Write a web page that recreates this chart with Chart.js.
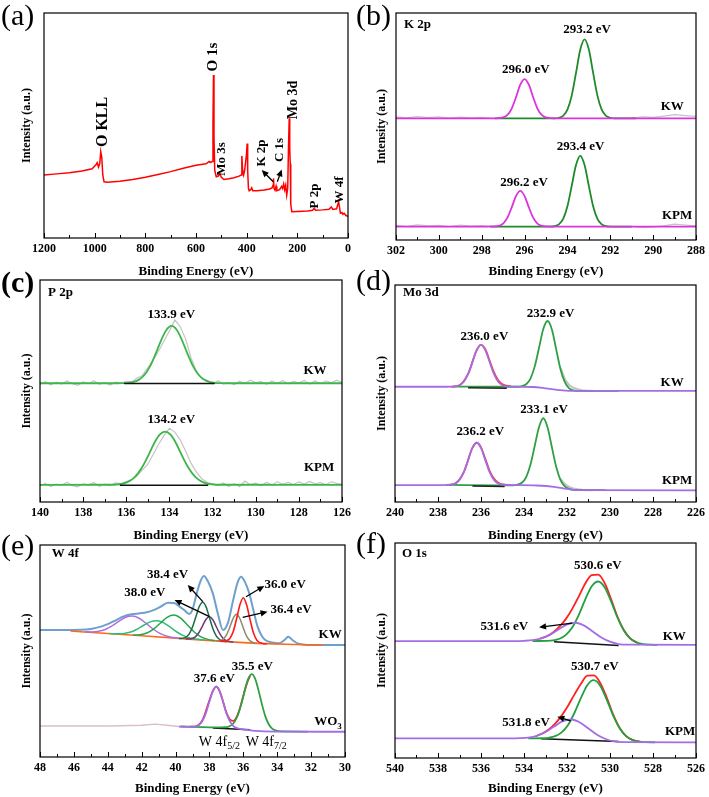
<!DOCTYPE html>
<html>
<head>
<meta charset="utf-8">
<script src="https://cdn.jsdelivr.net/npm/chart.js@4.4.1/dist/chart.umd.min.js"></script>
<style>
  html, body { margin: 0; padding: 0; background: #fff; }
  #fig { position: relative; width: 709px; height: 797px; overflow: hidden; }
  #fig canvas { position: absolute; }
</style>
</head>
<body>
<div id="fig"></div>
<script>
const SERIF = "'Liberation Serif', 'Times New Roman', serif";

// (a) survey spectrum
const surveyE = [1200, 1150, 1100, 1050, 1010, 995, 990, 985, 980, 976, 972, 968, 963, 950, 900, 850, 800, 750, 700, 650, 600, 560, 548, 542, 536, 533, 531, 529, 526, 520, 512, 506, 500, 490, 470, 450, 430, 422, 419, 416, 412, 408, 401, 398, 396, 393, 390, 384, 380, 376, 360, 330, 310, 300, 296, 294, 292, 288, 284, 281, 270, 262, 258, 254, 250, 246, 242, 238, 235, 232, 230, 228, 226, 222, 200, 160, 140, 133, 128, 100, 75, 66, 60, 45, 40, 37, 34, 30, 24, 20, 15, 8, 3, 0];
const surveyI = [28, 28.5, 29, 29.8, 30.8, 32.5, 33.5, 31.5, 33, 38.4, 36, 28, 25, 24.8, 25.2, 26, 27, 28.2, 29.5, 31, 32.3, 33, 34, 33.5, 34, 50, 72.4, 45, 30, 27.2, 27.5, 28.6, 27, 26, 26.3, 26.8, 27.5, 28, 36.5, 30, 28, 30, 37, 42, 30, 22, 21, 21.5, 22.3, 21, 21, 21.3, 21.8, 22.3, 23.5, 26.5, 22, 21.2, 23, 21, 21.5, 23, 22, 24, 21.5, 23.5, 19, 22, 40, 53.2, 40, 33, 15, 11.7, 11.8, 12, 12.3, 13.2, 12.3, 12.5, 12.8, 13.8, 12.7, 13, 15, 16.1, 14, 11, 11.3, 10.5, 11, 10, 9.8, 9.5];

// (b) K 2p
const kRawE = [302, 301.5, 301, 300.5, 300, 299.5, 299, 298.5, 298, 297.5, 294, 291, 290.5, 290, 289.5, 289, 288.5, 288];
const kKwRawI = [54.2, 53.8, 54.4, 53.9, 54.3, 53.7, 54.1, 53.8, 54.0, 53.6, null, 53.7, 54.3, 54.0, 54.6, 55.2, 54.8, 54.5];
const kKpmRawI = [6.4, 6.0, 6.7, 6.2, 6.5, 5.9, 6.6, 6.1, 6.3, 5.9, null, 6.0, 5.4, 5.8, 6.2, 7.0, 6.6, 6.2];
const kKw296E = [302, 297.6, 297.2, 297.0, 296.8, 296.6, 296.4, 296.2, 296.0, 295.8, 295.6, 295.4, 295.2, 295.0, 294.8, 294.4, 288];
const kKw296I = [53.6, 53.6, 53.7, 54.0, 55.1, 57.9, 62.9, 68.4, 70.9, 68.4, 62.9, 57.9, 55.1, 54.0, 53.7, 53.6, 53.6];
const kKw293E = [297.4, 294.8, 294.6, 294.4, 294.2, 294.0, 293.8, 293.6, 293.4, 293.2, 293.0, 292.8, 292.6, 292.4, 292.2, 292.0, 291.8, 290.8];
const kKw293I = [53.6, 53.6, 53.6, 53.85, 54.7, 57.4, 63.6, 73.6, 83.9, 88.4, 83.9, 73.6, 63.6, 57.4, 54.7, 53.85, 53.6, 53.6];
const kKpm296E = [302, 297.8, 297.4, 297.2, 297.0, 296.8, 296.6, 296.4, 296.2, 296.0, 295.8, 295.6, 295.4, 295.2, 295.0, 294.6, 288];
const kKpm296I = [5.9, 5.9, 5.96, 6.23, 7.23, 9.83, 14.38, 19.35, 21.6, 19.35, 14.38, 9.83, 7.23, 6.23, 5.96, 5.9, 5.9];
const kKpm293E = [297.6, 295.0, 294.8, 294.6, 294.4, 294.2, 294.0, 293.8, 293.6, 293.4, 293.2, 293.0, 292.8, 292.6, 292.4, 292.2, 292.0, 291.0];
const kKpm293I = [5.9, 5.9, 5.9, 6.12, 6.87, 9.3, 14.9, 23.8, 33.0, 37.1, 33.0, 23.8, 14.9, 9.3, 6.87, 6.12, 5.9, 5.9];

// (c) P 2p
const pRawE = [140, 139.75, 139.5, 139.25, 139, 138.75, 138.5, 138.25, 138, 137.75, 137.5, 137.25, 137, 136.75, 136.5, 136.25, 136, 135.75, 135.5, 135.25, 135, 134.75, 134.5, 134.25, 134, 133.75, 133.5, 133.25, 133, 132.75, 132.5, 132.25, 132, 131.75, 131.5, 131.25, 131, 130.75, 130.5, 130.25, 130, 129.75, 129.5, 129.25, 129, 128.75, 128.5, 128.25, 128, 127.75, 127.5, 127.25, 127, 126.75, 126.5, 126.25, 126];
const pKwRawI = [53.0, 54.2, 52.8, 54.0, 53.1, 54.5, 53.3, 52.6, 54.1, 53.4, 54.6, 53.0, 53.9, 52.7, 54.0, 53.6, 54.3, 54.2, 55.8, 57.0, 60.5, 64.0, 68.0, 72.5, 77.0, 82.0, 79.0, 73.5, 65.0, 59.0, 55.5, 54.8, 53.2, 54.6, 53.1, 53.9, 52.9, 54.4, 53.5, 54.9, 53.8, 54.2, 53.0, 54.5, 53.4, 54.7, 53.2, 54.3, 53.6, 54.8, 53.1, 54.5, 53.3, 54.6, 53.7, 54.9, 53.8];
const pKpmRawI = [7.2, 8.4, 7.0, 8.1, 7.5, 8.9, 7.3, 6.8, 8.2, 7.6, 8.8, 7.1, 8.0, 7.4, 8.6, 8.3, 9.2, 10.0, 11.8, 14.5, 17.0, 21.5, 26.0, 30.0, 33.2, 31.5, 28.0, 23.0, 17.5, 13.5, 10.5, 8.9, 8.2, 7.4, 8.6, 7.0, 8.3, 6.9, 9.4, 7.8, 8.5, 7.3, 8.9, 7.6, 9.2, 8.0, 8.8, 7.9, 9.0, 8.1, 9.3, 8.2, 8.7, 7.8, 9.1, 8.4, 8.0];
const pKwFitE = [140, 136.4, 136.15, 135.9, 135.65, 135.4, 135.15, 134.9, 134.65, 134.4, 134.15, 133.9, 133.65, 133.4, 133.15, 132.9, 132.65, 132.4, 132.15, 131.9, 131.65, 131.4, 126];
const pKwFitI = [53.5, 53.5, 53.55, 53.7, 54.1, 55.2, 57.3, 61.1, 66.5, 72.5, 77.4, 79.3, 77.4, 72.5, 66.5, 61.1, 57.3, 55.2, 54.1, 53.7, 53.55, 53.5, 53.5];
const pKpmFitE = [140, 136.7, 136.45, 136.2, 135.95, 135.7, 135.45, 135.2, 134.95, 134.7, 134.45, 134.2, 133.95, 133.7, 133.45, 133.2, 132.95, 132.7, 132.45, 132.2, 131.95, 131.7, 126];
const pKpmFitI = [7.7, 7.76, 7.88, 8.2, 8.95, 10.4, 13.0, 16.8, 21.6, 26.6, 30.3, 31.7, 30.3, 26.6, 21.6, 16.8, 13.0, 10.4, 8.95, 8.2, 7.88, 7.76, 7.7];
const pKwBgE = [136.1, 131.9], pKwBgI = [53.4, 53.4];
const pKpmBgE = [136.3, 132.2], pKpmBgI = [7.55, 7.6];

// (d) Mo 3d
const mKw236E = [240, 237.6, 237.2, 237.0, 236.8, 236.6, 236.4, 236.2, 236.0, 235.8, 235.6, 235.4, 235.2, 235.0, 234.8, 234.4, 233.6, 233.0, 232.4, 231.9, 226];
const mKw236I = [53.1, 53.1, 53.27, 53.81, 55.45, 59.0, 64.5, 70.0, 72.4, 70.0, 64.5, 59.0, 55.45, 53.81, 53.27, 53.1, 53.0, 52.4, 51.6, 51.2, 51.2];
const mKw233E = [237.3, 235.2, 234.3, 234.1, 233.9, 233.7, 233.5, 233.3, 233.1, 232.9, 232.7, 232.5, 232.3, 232.1, 231.9, 231.7, 231.5, 229.6];
const mKw233I = [53.2, 53.1, 53.1, 53.38, 54.25, 56.9, 62.5, 71.1, 79.8, 83.4, 79.4, 70.2, 61.1, 55.2, 52.35, 51.48, 51.2, 51.2];
const mKwEnvE = [237.4, 237.0, 236.6, 236.2, 236.0, 235.8, 235.6, 235.4, 235.2, 235.0, 234.6];
const mKwEnvI = [53.1, 53.81, 59.0, 70.0, 72.4, 70.4, 65.2, 59.8, 56.1, 54.3, 53.2];
const mRawE = [232.3, 232.1, 231.9, 231.7, 231.5, 231.3, 231.1, 230.8];
const mKwRawI = [61.8, 56.5, 53.8, 52.6, 51.9, 51.5, 51.3, 51.2];
const mKpmRawI = [10.6, 8.2, 6.9, 6.2, 5.8, 5.6, 5.5, 5.5];
const mKwBgE = [236.6, 234.8], mKwBgI = [52.7, 52.4];
const mKpm236E = [240, 237.8, 237.4, 237.2, 237.0, 236.8, 236.6, 236.4, 236.2, 236.0, 235.8, 235.6, 235.4, 235.2, 235.0, 234.6, 233.4, 232.6, 232.0, 231.5, 226];
const mKpm236I = [7.8, 7.8, 7.98, 8.52, 10.18, 13.77, 19.3, 24.9, 27.3, 24.9, 19.3, 13.77, 10.18, 8.52, 7.98, 7.8, 7.6, 7.0, 6.0, 5.5, 5.4];
const mKpm233E = [237.5, 235.2, 234.5, 234.3, 234.1, 233.9, 233.7, 233.5, 233.3, 233.1, 232.9, 232.7, 232.5, 232.3, 232.1, 231.9, 231.7, 230.2];
const mKpm233I = [7.9, 7.7, 7.7, 7.98, 8.85, 11.5, 17.2, 25.9, 34.6, 38.6, 34.2, 25.1, 16.1, 10.1, 7.15, 6.08, 5.6, 5.5];
const mKpmEnvE = [237.6, 237.2, 236.8, 236.4, 236.2, 236.0, 235.8, 235.6, 235.4, 235.2, 235.0, 234.6];
const mKpmEnvI = [7.8, 8.52, 13.77, 24.9, 27.3, 25.2, 19.9, 14.4, 10.8, 8.9, 8.1, 7.8];
const mKpmBgE = [236.4, 234.9], mKpmBgI = [7.4, 7.2];

// (e) W 4f, KW
const wKwEnvE = [48, 46.5, 45.6, 45.0, 44.4, 43.9, 43.5, 43.1, 42.6, 42.1, 41.7, 41.3, 40.9, 40.45, 40.1, 39.8, 39.5, 39.2, 39.0, 38.8, 38.55, 38.33, 38.1, 37.8, 37.5, 37.2, 36.9, 36.6, 36.35, 36.14, 35.9, 35.65, 35.4, 35.16, 34.9, 34.7, 34.3, 33.9, 33.6, 33.35, 33.1, 32.8, 32.4, 32.1, 30];
const wKwEnvI = [59.9, 59.9, 60.0, 60.4, 61.5, 63.0, 64.6, 66.2, 67.3, 67.8, 68.3, 69.3, 70.8, 72.8, 72.6, 71.2, 69.4, 67.5, 69.5, 75.6, 82.5, 85.4, 83.0, 77.2, 67.5, 59.9, 63.5, 74.0, 82.0, 85.0, 82.5, 77.2, 69.0, 61.5, 57.0, 55.2, 54.0, 53.6, 55.0, 56.7, 55.2, 53.6, 53.0, 52.8, 52.8];
const wKwBgE = [46.2, 45.6, 42.0, 39.0, 36.5, 35.2, 33.0, 31.3];
const wKwBgI = [59.4, 59.1, 57.2, 55.5, 54.2, 53.6, 53.1, 52.8];
const wKw360E = [37.4, 37.2, 37.0, 36.8, 36.6, 36.4, 36.2, 36.0, 35.8, 35.6, 35.4, 35.2, 35.0, 34.8, 34.6];
const wKw360I = [54.7, 54.65, 54.86, 55.9, 59.1, 65.1, 71.8, 75.1, 71.6, 64.7, 58.5, 55.1, 53.86, 53.45, 53.4];
const wKw364E = [37.6, 37.4, 37.2, 37.0, 36.8, 36.6, 36.4, 36.2, 36.0, 35.8, 35.6, 35.4, 35.2];
const wKw364I = [54.8, 54.92, 55.56, 57.5, 61.2, 65.4, 67.3, 65.2, 60.8, 56.9, 54.76, 53.92, 53.6];
const wKw384E = [39.8, 39.6, 39.4, 39.2, 39.0, 38.8, 38.6, 38.4, 38.2, 38.0, 37.8, 37.6, 37.4, 37.2, 37.0];
const wKw384I = [55.9, 56.0, 56.48, 58.0, 61.3, 66.2, 71.0, 73.0, 70.8, 65.75, 60.65, 57.15, 55.43, 54.7, 54.4];
const wKw380E = [39.4, 39.2, 39.0, 38.8, 38.6, 38.4, 38.2, 38.0, 37.8, 37.6, 37.4, 37.2, 37.0, 36.8, 36.6];
const wKw380I = [55.7, 55.72, 56.0, 56.92, 58.96, 62.0, 65.0, 66.2, 64.75, 61.55, 58.31, 56.02, 54.9, 54.42, 54.2];
const wKw401E = [42.5, 42.1, 41.7, 41.3, 40.9, 40.5, 40.1, 39.7, 39.3, 38.9, 38.5, 38.1, 37.7];
const wKw401I = [57.52, 57.68, 58.47, 60.29, 63.1, 65.9, 67.0, 65.5, 62.3, 58.99, 56.67, 55.48, 54.92];
const wKw411E = [43.9, 43.5, 43.1, 42.7, 42.3, 41.9, 41.5, 41.1, 40.7, 40.3, 39.9, 39.5, 39.1, 38.7, 38.3];
const wKw411I = [58.23, 58.1, 58.19, 58.81, 60.14, 62.04, 63.75, 64.3, 63.3, 61.14, 58.84, 57.11, 56.04, 55.5, 55.13];
const wKw426E = [45.35, 44.95, 44.55, 44.15, 43.75, 43.35, 42.95, 42.55, 42.15, 41.75, 41.35, 40.95, 40.55, 40.15, 39.75];
const wKw426I = [59.07, 59.01, 59.27, 60.17, 61.84, 63.97, 65.89, 66.5, 65.44, 63.12, 60.49, 58.42, 57.07, 56.36, 55.97];

// (e) W 4f, WO3
const wWoRawE = [48, 44, 42, 41.2, 40.5, 39.8];
const wWoRawI = [14.6, 14.6, 15.0, 15.5, 15.0, 14.4];
const wWo376E = [39.8, 39.2, 39.0, 38.8, 38.6, 38.4, 38.2, 38.0, 37.8, 37.6, 37.4, 37.2, 37.0, 36.8, 36.6, 36.4, 36.2, 35.6, 35.0, 34.0, 30.0];
const wWo376I = [14.3, 14.2, 14.28, 14.48, 15.23, 17.2, 20.95, 26.2, 31.1, 33.2, 31.1, 26.15, 20.8, 16.9, 14.73, 13.73, 13.28, 12.6, 12.2, 12.0, 11.9];
const wWo355E = [39.7, 37.3, 37.1, 36.9, 36.7, 36.5, 36.3, 36.1, 35.9, 35.7, 35.5, 35.3, 35.1, 34.9, 34.7, 34.5, 34.3, 34.1, 33.9, 32.2];
const wWo355I = [14.4, 14.0, 14.03, 14.25, 15.02, 16.8, 20.27, 25.6, 31.85, 37.1, 39.1, 36.85, 31.3, 24.8, 19.17, 15.45, 13.42, 12.55, 12.18, 12.0];
const wWoEnvE = [39.2, 38.8, 38.4, 38.0, 37.8, 37.6, 37.4, 37.2, 37.0, 36.8, 36.6, 36.4, 36.2, 36.0, 35.8, 35.6];
const wWoEnvI = [14.3, 14.5, 17.6, 26.8, 31.1, 33.2, 31.1, 26.2, 20.9, 17.8, 17.0, 18.8, 23.0, 28.9, 34.5, 38.2];
const wWoBgE = [37.8, 35.6], wWoBgI = [13.7, 12.8];

// (f) O 1s
const oKw531E = [540, 534.4, 534.0, 533.6, 533.2, 532.8, 532.4, 532.0, 531.6, 531.2, 530.8, 530.4, 530.0, 529.6, 529.2, 526];
const oKw531I = [54.4, 54.4, 54.5, 54.79, 55.59, 57.26, 59.74, 62.16, 62.9, 61.56, 58.84, 56.06, 54.09, 52.99, 52.7, 52.6];
const oKw530E = [533.6, 532.95, 532.65, 532.35, 532.05, 531.75, 531.45, 531.15, 530.85, 530.55, 530.25, 529.95, 529.65, 529.35, 529.05, 528.75, 528.45, 528.15, 527.8];
const oKw530I = [54.4, 54.49, 54.72, 55.47, 57.3, 60.82, 66.6, 73.76, 79.85, 82.1, 79.4, 72.81, 65.25, 59.22, 55.5, 53.67, 52.92, 52.69, 52.6];
const oKwEnvE = [533.25, 532.95, 532.65, 532.35, 532.05, 531.75, 531.45, 531.15, 530.85, 530.55, 530.25, 529.95, 529.65, 529.35, 529.05, 528.75];
const oKwEnvI = [55.5, 56.6, 58.4, 61.1, 64.7, 69.5, 75.2, 81.2, 85.1, 85.3, 81.4, 73.9, 65.7, 59.4, 55.55, 53.7];
const oKwBgE = [532.6, 529.6], oKwBgI = [54.1, 52.3];
const oKpm531E = [540, 534.6, 534.2, 533.8, 533.4, 533.0, 532.6, 532.2, 531.8, 531.4, 531.0, 530.6, 530.2, 529.8, 529.4, 526];
const oKpm531I = [9.1, 9.1, 9.2, 9.5, 10.33, 12.06, 14.62, 17.13, 17.9, 16.53, 13.72, 10.86, 8.83, 7.7, 7.4, 7.3];
const oKpm530E = [533.8, 533.15, 532.85, 532.55, 532.25, 531.95, 531.65, 531.35, 531.05, 530.75, 530.45, 530.15, 529.85, 529.55, 529.25, 528.95, 528.65, 528.35, 527.9];
const oKpm530I = [9.1, 9.18, 9.41, 10.14, 11.95, 15.39, 21.05, 27.95, 33.95, 36.2, 33.5, 27.05, 19.7, 13.79, 10.15, 8.34, 7.61, 7.38, 7.3];
const oKpmEnvE = [533.45, 533.15, 532.85, 532.55, 532.25, 531.95, 531.65, 531.35, 531.05, 530.75, 530.45, 530.15, 529.85, 529.55, 529.25, 528.95, 528.6];
const oKpmEnvI = [10.2, 11.4, 13.26, 16.0, 19.72, 24.33, 29.6, 34.5, 38.3, 38.4, 34.8, 28.13, 20.17, 13.95, 10.2, 8.4, 7.6];
const oKpmBgE = [533.2, 529.6], oKpmBgI = [8.9, 7.7];

const GRAY = '#c4c4c4';

function pts(E, I) {
    return E.map((x, i) => ({ x: x, y: I[i] }));
}

function curve(E, I, color, width) {
    return {
        data: pts(E, I), borderColor: color, borderWidth: width || 1.8,
        pointRadius: 0, fill: false, cubicInterpolationMode: 'monotone', spanGaps: false
    };
}

function raw(E, I, color, width) {
    return {
        data: pts(E, I), borderColor: color, borderWidth: width || 1.2,
        pointRadius: 0, fill: false, tension: 0, spanGaps: false
    };
}

function drawArrow(ctx, x1, y1, x2, y2) {
    const ang = Math.atan2(y2 - y1, x2 - x1);
    const hl = 7, hw = 3.2;
    ctx.beginPath();
    ctx.moveTo(x1, y1);
    ctx.lineTo(x2 - Math.cos(ang) * hl * 0.8, y2 - Math.sin(ang) * hl * 0.8);
    ctx.lineWidth = 1.3;
    ctx.stroke();
    ctx.beginPath();
    ctx.moveTo(x2, y2);
    ctx.lineTo(x2 - hl * Math.cos(ang) + hw * Math.sin(ang), y2 - hl * Math.sin(ang) - hw * Math.cos(ang));
    ctx.lineTo(x2 - hl * Math.cos(ang) - hw * Math.sin(ang), y2 - hl * Math.sin(ang) + hw * Math.cos(ang));
    ctx.closePath();
    ctx.fill();
}

function drawLabel(ctx, item, px, py) {
    const size = item.size || 13;
    const weight = item.bold === false ? '' : 'bold ';
    ctx.font = weight + size + 'px ' + SERIF;
    ctx.textBaseline = 'middle';
    if (item.rot) {
        ctx.save();
        ctx.translate(px, py);
        ctx.rotate(-Math.PI / 2);
        ctx.textAlign = 'center';
        ctx.fillText(item.t, 0, 0);
        ctx.restore();
        return;
    }
    if (item.sub) {
        const w1 = ctx.measureText(item.t).width;
        const subFont = weight + Math.round(size * 0.68) + 'px ' + SERIF;
        ctx.font = subFont;
        const w2 = ctx.measureText(item.sub).width;
        const x0 = px - (w1 + w2) / 2;
        ctx.textAlign = 'left';
        ctx.font = weight + size + 'px ' + SERIF;
        ctx.fillText(item.t, x0, py);
        ctx.font = subFont;
        ctx.fillText(item.sub, x0 + w1, py + size * 0.32);
        return;
    }
    ctx.textAlign = item.align || 'center';
    ctx.fillText(item.t, px, py);
}

function decoPlugin(p) {
    return {
        id: 'deco',
        afterDraw(chart) {
            const { ctx, chartArea: a, scales: { x, y } } = chart;
            ctx.save();
            ctx.strokeStyle = '#000';
            ctx.fillStyle = '#000';
            ctx.lineWidth = 1.2;
            ctx.strokeRect(a.left, a.top, a.right - a.left, a.bottom - a.top);
            x.ticks.forEach((t) => {
                const px = Math.round(x.getPixelForValue(t.value)) + 0.5;
                const len = t.value % p.labelStep === 0 ? 5 : 3;
                ctx.beginPath();
                ctx.moveTo(px, a.bottom);
                ctx.lineTo(px, a.bottom - len);
                ctx.lineWidth = 1;
                ctx.stroke();
            });
            (p.arrows || []).forEach((ar) => {
                drawArrow(ctx, x.getPixelForValue(ar[0]), y.getPixelForValue(ar[1]),
                    x.getPixelForValue(ar[2]), y.getPixelForValue(ar[3]));
            });
            (p.texts || []).forEach((item) => {
                drawLabel(ctx, item, x.getPixelForValue(item.x), y.getPixelForValue(item.y));
            });
            ctx.font = (p.letterBold ? 'bold ' : '') + '30px ' + SERIF;
            ctx.textAlign = 'left';
            ctx.textBaseline = 'middle';
            ctx.fillText(p.letter, p.letterPos[0] - p.box[0], p.letterPos[1] - p.box[1]);
            ctx.restore();
        }
    };
}

function makePanel(p) {
    const [bl, bt, bw, bh] = p.box;
    const [pl, pt, pr, pb] = p.plot;
    const canvas = document.createElement("canvas");
    canvas.width = bw;
    canvas.height = bh;
    canvas.style.left = bl + "px";
    canvas.style.top = bt + "px";
    canvas.style.width = bw + "px";
    canvas.style.height = bh + "px";
    document.getElementById("fig").appendChild(canvas);

    const datasets = p.layers.map((d, i) => Object.assign(d, { order: -i }));

    new Chart(canvas.getContext("2d"), {
        type: "line",
        data: { datasets: datasets },
        options: {
            responsive: false,
            animation: false,
            devicePixelRatio: 1,
            events: [],
            layout: { padding: { left: 0, top: pt - bt, right: bl + bw - pr, bottom: 0 } },
            plugins: { legend: { display: false }, tooltip: { enabled: false } },
            scales: {
                x: {
                    type: "linear",
                    min: p.xMin,
                    max: p.xMax,
                    reverse: true,
                    grid: { display: false, drawTicks: false },
                    border: { display: false },
                    ticks: {
                        stepSize: p.step,
                        autoSkip: false,
                        maxRotation: 0,
                        padding: 4,
                        color: "#000",
                        font: { family: SERIF, size: 12, weight: "bold" },
                        callback: (v) => (v % p.labelStep === 0 ? String(v) : "")
                    },
                    title: {
                        display: true,
                        text: "Binding Energy (eV)",
                        color: "#000",
                        font: { family: SERIF, size: 13, weight: "bold" },
                        padding: { top: 0, bottom: 1 }
                    },
                    afterFit: (s) => { s.height = bt + bh - pb; }
                },
                y: {
                    type: "linear",
                    min: 0,
                    max: 100,
                    grid: { display: false, drawTicks: false },
                    border: { display: false },
                    ticks: { display: false },
                    title: {
                        display: true,
                        text: "Intensity (a.u.)",
                        color: "#000",
                        font: { family: SERIF, size: 12, weight: "bold" },
                        padding: { top: 20, bottom: 0 }
                    },
                    afterFit: (s) => { s.width = pl - bl; }
                }
            }
        },
        plugins: [decoPlugin(p)]
    });
}

// (a)
makePanel({
    box: [0, 0, 355, 280], plot: [44, 13, 348, 238],
    xMin: 0, xMax: 1200, step: 100, labelStep: 200,
    letter: "(a)", letterPos: [1, 17],
    layers: [raw(surveyE, surveyI, "#ff0000", 1.5)],
    texts: [
        { t: "O KLL", x: 967, y: 51.6, size: 16, rot: true },
        { t: "O 1s", x: 533, y: 80.4, size: 15, rot: true },
        { t: "Mo 3s", x: 497, y: 35.1, size: 13, rot: true },
        { t: "K 2p", x: 339.5, y: 37.8, size: 13, rot: true },
        { t: "C 1s", x: 268, y: 39.1, size: 13, rot: true },
        { t: "Mo 3d", x: 217, y: 61.3, size: 14, rot: true },
        { t: "P 2p", x: 130, y: 18.7, size: 13, rot: true },
        { t: "W 4f", x: 32, y: 21.3, size: 13, rot: true }
    ],
    arrows: [[295, 25, 340.7, 30.2], [279, 25, 261.7, 30.5]]
});

// (b)
makePanel({
    box: [355, 0, 354, 280], plot: [396, 13, 698, 240],
    xMin: 288, xMax: 302, step: 1, labelStep: 2,
    letter: "(b)", letterPos: [356, 17],
    layers: [
        raw(kRawE, kKwRawI, GRAY), raw(kRawE, kKpmRawI, GRAY),
        curve(kKw293E, kKw293I, "#1f8a2a"), curve(kKw296E, kKw296I, "#dd33dd"),
        curve(kKpm293E, kKpm293I, "#1f8a2a"), curve(kKpm296E, kKpm296I, "#dd33dd")
    ],
    texts: [
        { t: "K 2p", x: 301.63, y: 94.7, align: "left" },
        { t: "293.2 eV", x: 293.08, y: 92.8 },
        { t: "296.0 eV", x: 295.94, y: 74.9 },
        { t: "293.4 eV", x: 293.39, y: 41.1 },
        { t: "296.2 eV", x: 296.02, y: 25.2 },
        { t: "KW", x: 289.11, y: 58.7 },
        { t: "KPM", x: 288.88, y: 10.7 }
    ]
});

// (c)
makePanel({
    box: [0, 262, 355, 282], plot: [40, 280, 343, 502],
    xMin: 126, xMax: 140, step: 1, labelStep: 2,
    letter: "(c)", letterBold: true, letterPos: [1, 284],
    layers: [
        raw(pRawE, pKwRawI, GRAY), raw(pRawE, pKpmRawI, GRAY),
        curve(pKwFitE, pKwFitI, "#3cb54a"), raw(pKwBgE, pKwBgI, "#111", 1.5),
        curve(pKpmFitE, pKpmFitI, "#3cb54a"), raw(pKpmBgE, pKpmBgI, "#111", 1.5)
    ],
    texts: [
        { t: "P 2p", x: 139.63, y: 94.1, align: "left" },
        { t: "133.9 eV", x: 133.91, y: 84.2 },
        { t: "134.2 eV", x: 133.91, y: 36.9 },
        { t: "KW", x: 127.25, y: 59 },
        { t: "KPM", x: 127.06, y: 15.5 }
    ]
});

// (d)
makePanel({
    box: [355, 262, 354, 282], plot: [395, 285, 698, 502],
    xMin: 226, xMax: 240, step: 1, labelStep: 2,
    letter: "(d)", letterPos: [356, 282],
    layers: [
        curve(mKwEnvE, mKwEnvI, "#ff3030"), raw(mRawE, mKwRawI, GRAY, 2.2),
        curve(mKw233E, mKw233I, "#2ea043"), raw(mKwBgE, mKwBgI, "#222", 1.5),
        curve(mKw236E, mKw236I, "#a46de6"),
        curve(mKpmEnvE, mKpmEnvI, "#ff3030"), raw(mRawE, mKpmRawI, GRAY, 2.2),
        curve(mKpm233E, mKpm233I, "#2ea043"), raw(mKpmBgE, mKpmBgI, "#222", 1.5),
        curve(mKpm236E, mKpm236I, "#a46de6")
    ],
    texts: [
        { t: "Mo 3d", x: 239.63, y: 96.3, align: "left" },
        { t: "232.9 eV", x: 232.76, y: 87 },
        { t: "236.0 eV", x: 235.84, y: 76.2 },
        { t: "233.1 eV", x: 233.07, y: 42.4 },
        { t: "236.2 eV", x: 236.03, y: 32.4 },
        { t: "KW", x: 227.11, y: 55.2 },
        { t: "KPM", x: 226.88, y: 9.7 }
    ]
});

// (e)
makePanel({
    box: [0, 526, 355, 271], plot: [40, 545, 346, 757],
    xMin: 30, xMax: 48, step: 1, labelStep: 2,
    letter: "(e)", letterPos: [1, 547],
    layers: [
        curve(wKwEnvE, wKwEnvI, "#6e9fcd", 2), raw(wKwBgE, wKwBgI, "#ff6a1a", 1.6),
        curve(wKw426E, wKw426I, "#b06fe0", 1.5), curve(wKw411E, wKw411I, "#33bb77", 1.5),
        curve(wKw401E, wKw401I, "#21a650", 1.5), curve(wKw380E, wKw380I, "#6b3b7b", 1.5),
        curve(wKw384E, wKw384I, "#1c6b48", 1.5), curve(wKw364E, wKw364I, "#8e8a6a", 1.5),
        curve(wKw360E, wKw360I, "#ff1a1a", 1.6),
        raw(wWoRawE, wWoRawI, "#d8c0c8", 1.4), raw(wWoBgE, wWoBgI, "#111", 1.5),
        curve(wWoEnvE, wWoEnvI, "#ff2020"), curve(wWo355E, wWo355I, "#2ea043"),
        curve(wWo376E, wWo376I, "#a46de6")
    ],
    texts: [
        { t: "W 4f", x: 47.3, y: 95.8, align: "left" },
        { t: "38.4 eV", x: 40.47, y: 85.8 },
        { t: "38.0 eV", x: 41.82, y: 77.5 },
        { t: "36.0 eV", x: 33.53, y: 81.1 },
        { t: "36.4 eV", x: 33.18, y: 69.3 },
        { t: "35.5 eV", x: 35.47, y: 42.5 },
        { t: "37.6 eV", x: 37.71, y: 36.8 },
        { t: "W 4f", sub: "5/2", x: 37.41, y: 7.1, bold: false, size: 14 },
        { t: "W 4f", sub: "7/2", x: 34.65, y: 7.1, bold: false, size: 14 },
        { t: "KW", x: 30.88, y: 57.5 },
        { t: "WO", sub: "3", x: 31.0, y: 16.5 }
    ],
    arrows: [
        [38.39, 73.3, 39.28, 81.1], [38.0, 66.2, 40.06, 74.1],
        [35.84, 75.6, 34.76, 80.7], [36.04, 65.9, 34.57, 68.5]
    ]
});

// (f)
makePanel({
    box: [355, 526, 354, 271], plot: [395, 543, 698, 758],
    xMin: 526, xMax: 540, step: 1, labelStep: 2,
    letter: "(f)", letterPos: [356, 545],
    layers: [
        raw(oKwBgE, oKwBgI, "#111", 1.5), curve(oKwEnvE, oKwEnvI, "#ff2020"),
        curve(oKw530E, oKw530I, "#22a040"), curve(oKw531E, oKw531I, "#a46de6"),
        raw(oKpmBgE, oKpmBgI, "#111", 1.5), curve(oKpmEnvE, oKpmEnvI, "#ff2020"),
        curve(oKpm530E, oKpm530I, "#22a040"), curve(oKpm531E, oKpm531I, "#a46de6")
    ],
    texts: [
        { t: "O 1s", x: 539.68, y: 94.9, align: "left" },
        { t: "530.6 eV", x: 530.57, y: 89.3 },
        { t: "531.6 eV", x: 534.92, y: 61.1 },
        { t: "530.7 eV", x: 530.71, y: 42.5 },
        { t: "531.8 eV", x: 533.9, y: 16.4 },
        { t: "KW", x: 527.01, y: 56.4 },
        { t: "KPM", x: 526.74, y: 12.2 }
    ],
    arrows: [[531.76, 62.7, 533.3, 60.8], [531.83, 17.3, 532.45, 19.2]]
});
</script>
</body>
</html>
